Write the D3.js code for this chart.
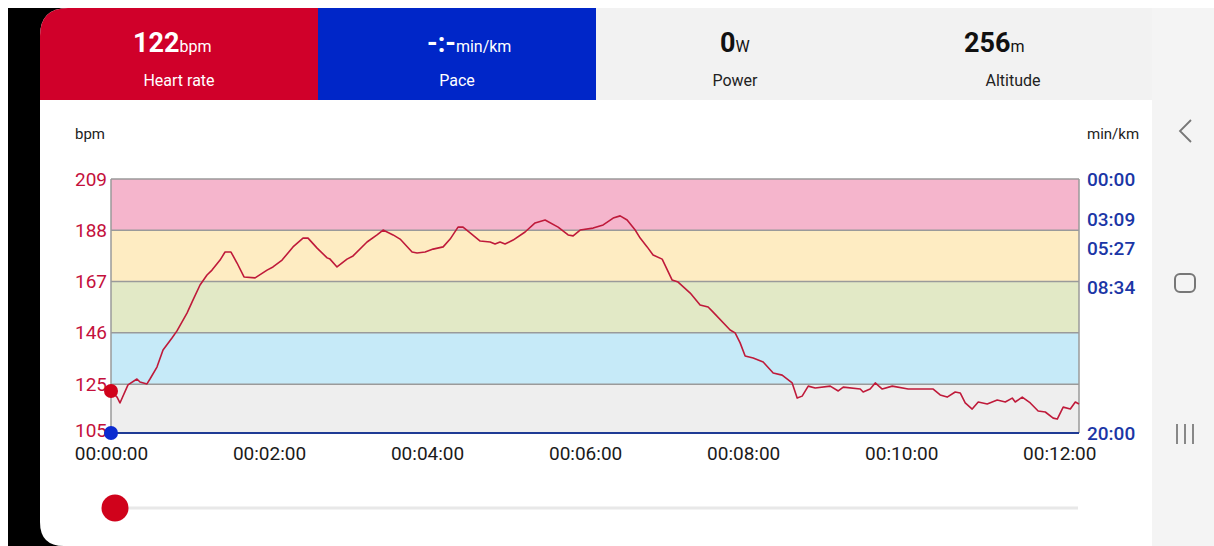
<!DOCTYPE html>
<html>
<head>
<meta charset="utf-8">
<script src="https://cdn.jsdelivr.net/npm/d3@7"></script>
<style>
  html, body { margin: 0; padding: 0; background: #fff; }
  svg { display: block; font-family: Roboto, "Noto Sans", sans-serif; }
</style>
</head>
<body>
<svg id="c" width="1214" height="546"></svg>
<script>
// ---------- data ----------
const hrTime = [0,4.6,6.8,12.9,19.7,22,27.3,29.6,34.9,39.5,46.3,50.1,57.7,62.3,67.6,72.9,76.7,82.8,86.6,91.1,95.7,101,109.4,118.5,123,129.9,138.2,145.8,149.6,156.5,164.1,166.3,171.6,179.2,183.8,194.4,202,206.6,214.2,219.5,228.6,232.4,238.5,244.6,252.2,257.5,263.5,267.3,272.7,280.3,287.9,291.6,295.4,299.2,305.3,314.4,322,329.6,339.5,347.1,350.9,356.2,366.1,373.7,381.3,386.6,391.9,398,401.8,407.1,411.6,418.5,426.1,430.6,439.8,447.3,453.4,457.2,470.1,473.9,477.7,481.5,487.6,495.2,502.8,509.6,517.2,521,524.8,529.4,534.7,546.1,552.2,556,568.9,571.1,576.4,580.3,585.6,593.2,605.3,624.3,629.6,634.9,641,644.8,648.6,653.9,658.5,665.3,672.9,679,684.3,686.6,691.9,698,704,709.4,715.4,718.5,723,728.4,732.2,735];
const hrBpm = [122.2,119.7,117.3,124.7,127.1,125.9,125.1,127.1,132,139,143.9,146.8,154.1,159.5,165.6,169.7,171.7,175.8,179.1,179.1,174.6,168.9,168.5,171.7,173,175.8,181.2,184.8,184.8,180.7,176.7,176.2,173,176.2,177.5,183.2,186.1,188.1,186.1,184.4,179.1,178.7,179.1,180.3,181.2,184.4,189.3,189.3,186.9,183.6,183.2,182.4,183.2,182.4,184,187.3,191,192.2,189.3,186.1,185.7,188.1,188.9,190.2,193,193.9,192.2,188.1,184.8,181.2,177.9,176.2,167.6,166.8,162.3,157.4,156.6,154.5,147.2,146,141.9,136.5,135.7,134.1,129.6,128.7,125.5,119.3,120.1,124.2,123.4,124.2,122.2,123.8,123,121.8,123,125.5,123,124.2,123,123,120.6,119.7,121.8,121.4,117.3,114.8,117.7,116.9,118.5,117.7,119.3,117.7,119.7,117.3,114,113.6,111.1,110.7,115.6,114.8,117.7,116.9];
const paceTime = [0, 735];          // seconds
const paceValue = [1200, 1200];     // seconds per km (no pace -> 20:00)
const zoneEdges = [105, 125, 146, 167, 188, 209];
const zoneColors = ["#eeeeee", "#c6eaf8", "#e2e9c6", "#feecc2", "#f5b5cc"];
const leftTicks = [105, 125, 146, 167, 188, 209];
const rightTicks = [0, 189, 327, 514, 1200];
const timeTicks = [0, 120, 240, 360, 480, 600, 720];
const headerValues = ["122", "-:-", "0", "256"];
const headerUnits = ["bpm", "min/km", "W", "m"];
const headerLabels = ["Heart rate", "Pace", "Power", "Altitude"];
const headerColors = ["#d0002a", "#0026c8", "#f2f2f2", "#f2f2f2"];

// ---------- setup ----------
const svg = d3.select("#c");
const W = 1214, H = 546;
const x = d3.scaleLinear().domain([0, 735]).range([111, 1079]);
const yL = d3.scaleLinear().domain([105, 209]).range([433, 179]);
const yR = d3.scaleLinear().domain([1200, 0]).range([433, 179]);

// black side strip
svg.append("rect").attr("x", 8).attr("y", 8).attr("width", 60).attr("height", H - 8).attr("fill", "#000");
// nav bar
svg.append("rect").attr("x", 1152).attr("y", 8).attr("width", W - 1152).attr("height", H - 8).attr("fill", "#f4f4f4");

// card with rounded left corners
const cardPath = "M40,36 Q40,8 68,8 L1152,8 L1152,546 L64,546 Q40,546 40,522 Z";
const defs = svg.append("defs");
defs.append("clipPath").attr("id", "card").append("path").attr("d", cardPath);
svg.append("path").attr("d", cardPath).attr("fill", "#fff");

const card = svg.append("g").attr("clip-path", "url(#card)");
// header panels
const panelX = [40, 318, 596, 874];
const panelW = [278, 278, 278, 278];
headerColors.forEach((c, i) => {
  card.append("rect").attr("x", panelX[i]).attr("y", 8).attr("width", panelW[i] + 0.5).attr("height", 92).attr("fill", c);
});
const valueStart = [133, 427, 720, 964];
headerValues.forEach((v, i) => {
  const col = i < 2 ? "#fff" : "#111";
  const t = svg.append("text").attr("x", valueStart[i]).attr("y", 52).attr("fill", col);
  t.append("tspan").attr("font-size", 27).attr("font-weight", 700).text(v);
  t.append("tspan").attr("font-size", 16).attr("font-weight", 400).text(headerUnits[i]);
  svg.append("text").attr("x", panelX[i] + panelW[i] / 2).attr("y", 86)
    .attr("text-anchor", "middle").attr("font-size", 16).attr("fill", i < 2 ? "#fff" : "#222")
    .text(headerLabels[i]);
});

// ---------- chart ----------
const g = svg.append("g");
// zone bands
d3.range(zoneColors.length).forEach(i => {
  g.append("rect")
    .attr("x", x(0)).attr("width", x(735) - x(0))
    .attr("y", yL(zoneEdges[i + 1])).attr("height", yL(zoneEdges[i]) - yL(zoneEdges[i + 1]))
    .attr("fill", zoneColors[i]);
});
// zone lines
zoneEdges.slice(1).forEach(v => {
  g.append("line").attr("x1", x(0)).attr("x2", x(735)).attr("y1", yL(v)).attr("y2", yL(v))
    .attr("stroke", "#9a9a9a").attr("stroke-width", 1.5);
});
// side borders
[0, 735].forEach(t => {
  g.append("line").attr("x1", x(t)).attr("x2", x(t)).attr("y1", yL(209)).attr("y2", yL(105))
    .attr("stroke", "#9a9a9a").attr("stroke-width", 1.5);
});

// pace line
const paceData = paceTime.map((t, i) => ({ t, v: paceValue[i] }));
g.append("path").datum(paceData)
  .attr("d", d3.line().x(d => x(d.t)).y(d => yR(d.v)))
  .attr("fill", "none").attr("stroke", "#1f3b95").attr("stroke-width", 2);

// heart-rate line
const hrData = hrTime.map((t, i) => ({ t, v: hrBpm[i] }));
g.append("path").datum(hrData)
  .attr("d", d3.line().x(d => x(d.t)).y(d => yL(d.v)))
  .attr("fill", "none").attr("stroke", "#bf1a3a").attr("stroke-width", 1.6).attr("stroke-linejoin", "round");

// axes
const axL = svg.append("g").attr("transform", `translate(${x(0)},0)`)
  .call(d3.axisLeft(yL).tickValues(leftTicks).tickSize(0).tickPadding(4));
axL.select(".domain").remove();
axL.selectAll("text").attr("font-size", 19).attr("fill", "#c4103c").attr("font-family", "Roboto")
  .attr("dy", d => d === 105 ? "0.2em" : "0.32em");

const fmtPace = s => d3.format("02d")(Math.floor(s / 60)) + ":" + d3.format("02d")(s % 60);
const axR = svg.append("g").attr("transform", `translate(${x(735)},0)`)
  .call(d3.axisRight(yR).tickValues(rightTicks).tickFormat(fmtPace).tickSize(0).tickPadding(8));
axR.select(".domain").remove();
axR.selectAll("text").attr("font-size", 19).attr("font-weight", 500).attr("fill", "#1b36a6").attr("font-family", "Roboto");

const fmtTime = s => "00:" + d3.format("02d")(Math.floor(s / 60)) + ":00";
const axB = svg.append("g").attr("transform", `translate(0,${yL(105)})`)
  .call(d3.axisBottom(x).tickValues(timeTicks).tickFormat(fmtTime).tickSize(0).tickPadding(14));
axB.select(".domain").remove();
axB.selectAll("text").attr("font-size", 19).attr("fill", "#1a1a1a").attr("font-family", "Roboto");

// unit labels
svg.append("text").attr("x", 75).attr("y", 139).attr("font-size", 15).attr("fill", "#222").text("bpm");
svg.append("text").attr("x", 1087).attr("y", 139).attr("font-size", 15).attr("fill", "#222").text("min/km");

// current markers
svg.append("circle").attr("cx", x(hrTime[0])).attr("cy", yL(hrBpm[0])).attr("r", 7).attr("fill", "#d0021b");
svg.append("circle").attr("cx", x(paceTime[0])).attr("cy", yR(paceValue[0])).attr("r", 7).attr("fill", "#0b2bd0");

// slider
svg.append("line").attr("x1", 120).attr("x2", 1078).attr("y1", 508).attr("y2", 508)
  .attr("stroke", "#e8e8e8").attr("stroke-width", 3);
svg.append("circle").attr("cx", x(0) + 4).attr("cy", 508).attr("r", 13.5).attr("fill", "#d0021b");

// nav icons
svg.append("path").attr("d", "M1191,120 L1180,131 L1191,142").attr("fill", "none")
  .attr("stroke", "#777").attr("stroke-width", 1.8);
svg.append("rect").attr("x", 1175).attr("y", 274).attr("width", 20).attr("height", 18).attr("rx", 5)
  .attr("fill", "none").attr("stroke", "#777").attr("stroke-width", 2);
[1177, 1185, 1193].forEach(xx => {
  svg.append("line").attr("x1", xx).attr("x2", xx).attr("y1", 424).attr("y2", 444)
    .attr("stroke", "#888").attr("stroke-width", 2);
});
</script>
</body>
</html>
